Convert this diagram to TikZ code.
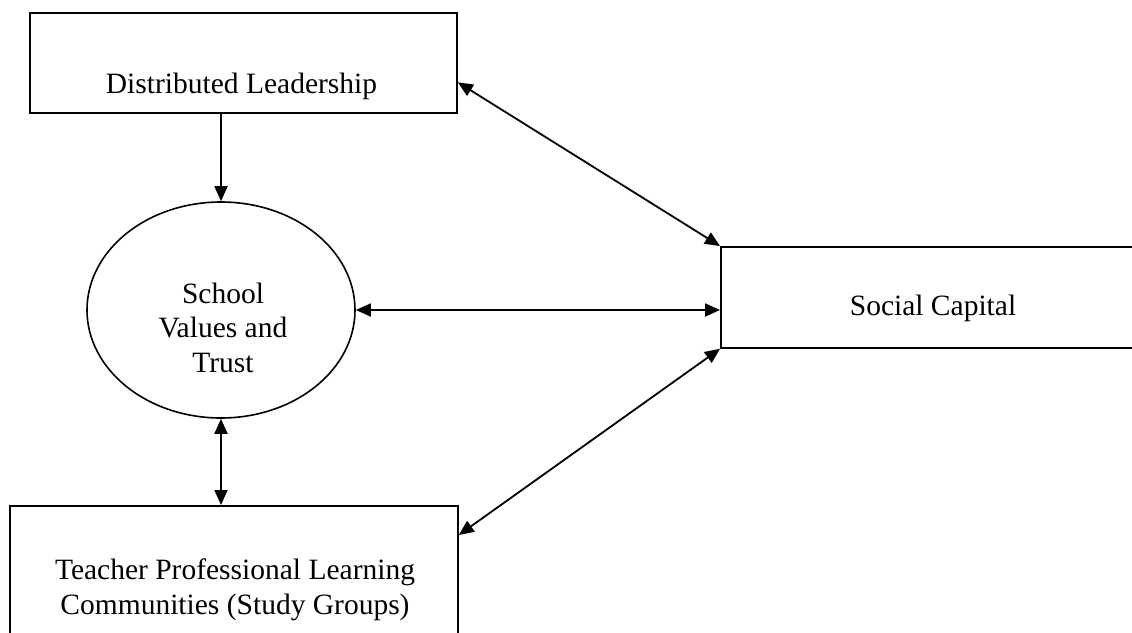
\documentclass[tikz,border=0pt]{standalone}
\usepackage{fontspec}
\setmainfont{Liberation Serif}
\usetikzlibrary{arrows.meta,shapes.geometric,calc}
\begin{document}
\begin{tikzpicture}[x=1pt,y=-1pt,
  box/.style={draw, line width=1.8pt, rectangle, inner sep=0pt},
  oval/.style={draw, line width=1.6pt, ellipse, inner sep=0pt},
  lbl/.style={font=\fontsize{29.5}{34.5}\selectfont, inner sep=0pt, align=center},
  tip/.style={Triangle[length=15pt,width=13pt]},
  link/.style={line width=1.8pt, -{Triangle[length=15pt,width=13pt]}},
  both/.style={line width=1.8pt, {Triangle[length=15pt,width=13pt]}-{Triangle[length=15pt,width=13pt]}}]
\useasboundingbox[fill=white] (0,0) rectangle (1132,632);

% boxes and the oval
\node[box, minimum width=427pt, minimum height=100pt] (dl) at (243.5,63) {};
\node[oval, minimum width=268pt, minimum height=216pt] (sv) at (221,310) {};
\node[box, minimum width=440pt, minimum height=101pt, anchor=north west] (sc) at (720,246) {};
\node[box, minimum width=448pt, minimum height=160pt, anchor=north west] (tp) at (9,505) {};

% labels
\node[lbl, anchor=base] (dltext) at (241.5,93) {Distributed Leadership};
\node[lbl] (svtext) at (223,327.5) {School\\Values and\\Trust};
\node[lbl, anchor=base] (sctext) at (933,315) {Social Capital};
\node[lbl] (tptext) at (235,590) {Teacher Professional Learning\\Communities (Study Groups)};

% connectors
\draw[link] (sv.north |- dl.south) -- (sv.north);
\draw[both] ($(dl.north east)!0.69!(dl.south east)$) -- (sc.north west);
\draw[both] (sv.east) -- (sv.east -| sc.west);
\draw[both] ($(tp.north east)+(0,30)$) -- (sc.south west);
\draw[both] (sv.south) -- (sv.south |- tp.north);
\end{tikzpicture}
\end{document}
